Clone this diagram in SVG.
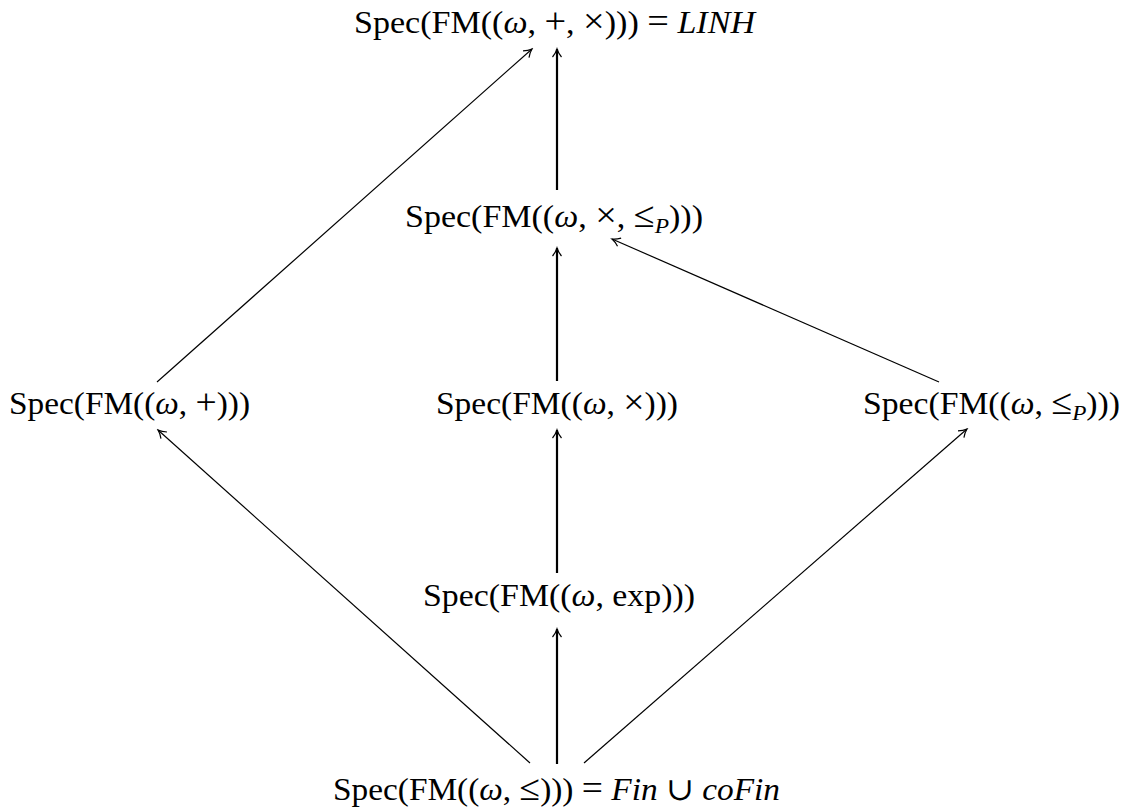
<svg xmlns="http://www.w3.org/2000/svg" width="1133" height="809" viewBox="0 0 1133 809">
<style>
text{font-family:"Liberation Serif","DejaVu Serif",serif;font-size:32px;fill:#000}
.i{font-style:italic}
.o{font-size:36px}
.sub{font-size:22px;font-style:italic}
.thick{stroke:#000;stroke-width:2.2;fill:none}
.thin{stroke:#000;stroke-width:1.2;fill:none}
</style>
<defs>
<marker id="ah" viewBox="-10 -6 12 12" refX="0" refY="0" markerWidth="12" markerHeight="12" markerUnits="userSpaceOnUse" orient="auto">
<path d="M -8 -4.5 C -5 -2 -2 -0.6 0 0 C -2 0.6 -5 2 -8 4.5" fill="none" stroke="#000" stroke-width="1.2"/>
</marker>
</defs>
<rect width="1133" height="809" fill="#fff"/>
<g id="connectors">
<line class="thick" x1="557" y1="764" x2="557" y2="629" marker-end="url(#ah)"/>
<line class="thick" x1="557" y1="573" x2="557" y2="430" marker-end="url(#ah)"/>
<line class="thick" x1="557" y1="381" x2="557" y2="248" marker-end="url(#ah)"/>
<line class="thick" x1="557" y1="190" x2="557" y2="49" marker-end="url(#ah)"/>
<line class="thin" x1="530" y1="763" x2="158" y2="430" marker-end="url(#ah)"/>
<line class="thin" x1="584" y1="763" x2="967" y2="429" marker-end="url(#ah)"/>
<line class="thin" x1="157" y1="382" x2="532" y2="49" marker-end="url(#ah)"/>
<line class="thin" x1="939" y1="382" x2="612" y2="239" marker-end="url(#ah)"/>
</g>
<g id="n-top"><text x="354" y="33" textLength="401" lengthAdjust="spacingAndGlyphs">Spec(FM((<tspan class="i">ω</tspan>, <tspan class="o">+</tspan>, <tspan class="o">×</tspan>))) <tspan class="o">=</tspan> <tspan class="i">LINH</tspan></text></g>
<g id="n-mulP"><text x="405" y="227" textLength="298" lengthAdjust="spacingAndGlyphs">Spec(FM((<tspan class="i">ω</tspan>, <tspan class="o">×</tspan>, <tspan class="o">≤</tspan><tspan class="sub" dy="6">P</tspan><tspan dy="-6">)))</tspan></text></g>
<g id="n-plus"><text x="9" y="414" textLength="241" lengthAdjust="spacingAndGlyphs">Spec(FM((<tspan class="i">ω</tspan>, <tspan class="o">+</tspan>)))</text></g>
<g id="n-mul"><text x="436" y="414" textLength="242" lengthAdjust="spacingAndGlyphs">Spec(FM((<tspan class="i">ω</tspan>, <tspan class="o">×</tspan>)))</text></g>
<g id="n-leP"><text x="863" y="414" textLength="257" lengthAdjust="spacingAndGlyphs">Spec(FM((<tspan class="i">ω</tspan>, <tspan class="o">≤</tspan><tspan class="sub" dy="6">P</tspan><tspan dy="-6">)))</tspan></text></g>
<g id="n-exp"><text x="423" y="606" textLength="272" lengthAdjust="spacingAndGlyphs">Spec(FM((<tspan class="i">ω</tspan>, exp)))</text></g>
<g id="n-le"><text x="333" y="800" textLength="447" lengthAdjust="spacingAndGlyphs">Spec(FM((<tspan class="i">ω</tspan>, <tspan class="o">≤</tspan>))) <tspan class="o">=</tspan> <tspan class="i">Fin</tspan> ∪ <tspan class="i">coFin</tspan></text></g>
</svg>
